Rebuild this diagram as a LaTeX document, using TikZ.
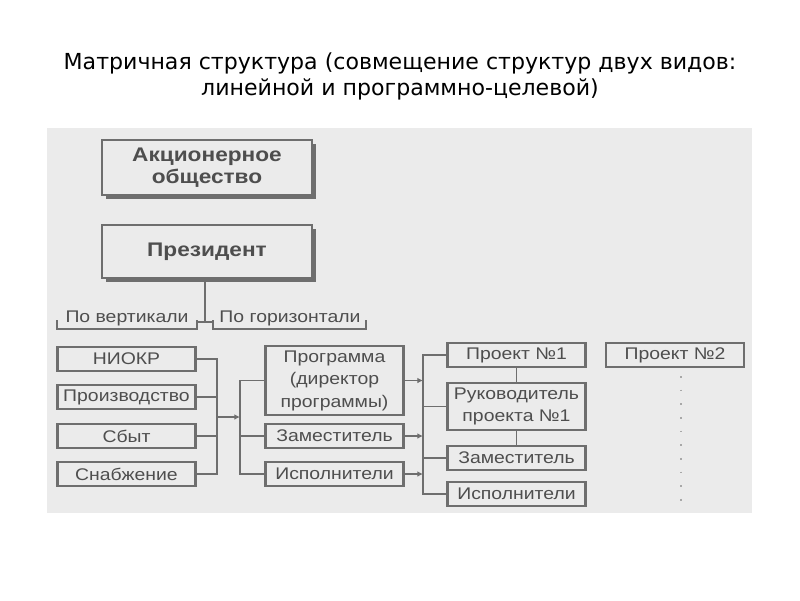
\documentclass[tikz,border=0pt]{standalone}
\usepackage{fontspec}
\setmainfont{Liberation Sans}
\newfontfamily\titlefont{DejaVu Sans}
\newfontfamily\boxfont[FakeStretch=1.15]{Liberation Sans}
\usepackage{tikz}
\usetikzlibrary{arrows.meta,positioning,shadows}
\definecolor{scanbg}{HTML}{EBEBEB}
\definecolor{boxline}{HTML}{6E6E6E}
\definecolor{boxtext}{HTML}{4E4E4E}

\begin{document}
\begin{tikzpicture}[
  x=0.025cm, y=-0.025cm,
  unit/.style={rectangle,draw=boxline,line width=1.5pt,fill=scanbg,
               text=boxtext,font=\boxfont\fontsize{12}{16}\selectfont,
               inner sep=1pt,align=center},
  unitsm/.style={unit,minimum width=3.45cm,minimum height=0.6cm},
  topbox/.style={unit,minimum width=5.25cm,font=\boxfont\bfseries\fontsize{14}{16}\selectfont,
                 drop shadow={shadow xshift=3pt,shadow yshift=-3pt,fill=boxline,opacity=1}},
  line/.style={draw=boxline,line width=1.3pt},
  arr/.style={line,-{Latex[length=4pt,width=4pt]}},
  tag/.style={text=boxtext,font=\boxfont\fontsize{12}{14}\selectfont,inner sep=0pt}
]
  \useasboundingbox (0,0) rectangle (800,600);
  \fill[white] (0,0) rectangle (800,600);

  % title
  \node[font=\titlefont\fontsize{15.7}{18.5}\selectfont,align=center] (title) at (400,76)
    {Матричная структура (совмещение структур двух видов:\\линейной и программно-целевой)};

  % scanned sheet
  \fill[scanbg] (47,128) rectangle (752,513);

  % top of the hierarchy
  \node[topbox,minimum height=1.375cm] (ao)   at (207,167.5) {Акционерное\\общество};
  \node[topbox,minimum height=1.325cm] (pres) at (207,251.5) {Президент};

  % two directions
  \node[tag] (vert)  at (127,318) {По вертикали};
  \node[tag] (horiz) at (290,318) {По горизонтали};
  \coordinate (vl) at (57,320);  \coordinate (vr) at (197,320);
  \coordinate (hl) at (213,320); \coordinate (hr) at (366,320);
  \coordinate (pj) at (205,322);
  \draw[line] (vl) -- ++(0,9) -| (vr);
  \draw[line] (hl) -- ++(0,9) -| (hr);
  \draw[line] (pres.south -| pj) -- (pj);
  \draw[line] (vr |- pj) -- (hl |- pj);

  % functional departments
  \node[unitsm] (niokr)  at (126.5,359) {НИОКР};
  \node[unitsm] (proizv) at (126.5,397) {Производство};
  \node[unitsm] (sbyt)   at (126.5,436) {Сбыт};
  \node[unitsm] (snab)   at (126.5,474) {Снабжение};

  % programme
  \node[unitsm,minimum height=1.725cm] (prog) at (334.5,380.5) {Программа\\(директор\\программы)};
  \node[unitsm] (zam) at (334.5,436) {Заместитель};
  \node[unitsm] (isp) at (334.5,474) {Исполнители};

  % projects
  \node[unitsm] (p1)   at (516.5,355) {Проект №1};
  \node[unitsm,minimum height=1.175cm] (ruk) at (516.5,406.5) {Руководитель\\проекта №1};
  \node[unitsm] (zam1) at (516.5,458) {Заместитель};
  \node[unitsm] (isp1) at (516.5,494) {Исполнители};
  \node[unitsm] (p2)   at (675,355)   {Проект №2};

  % buses
  \coordinate (lb) at (217,417);
  \coordinate (rb) at (240,417);
  \coordinate (mb) at (423,420);

  \foreach \dep in {niokr,proizv,sbyt,snab}
    \draw[line] (\dep.east) -| (lb);
  \draw[arr] (lb) -- (rb);
  \foreach \dep in {prog,zam,isp}
    \draw[line] (rb) |- (\dep.west);

  \foreach \dep in {prog,zam,isp}
    \draw[arr] (\dep.east) -- (\dep.east -| mb);
  \foreach \dep in {p1,ruk,zam1,isp1}
    \draw[line] (mb) |- (\dep.west);

  \draw[line] (p1) -- (ruk);
  \draw[line] (ruk) -- (zam1);

  \coordinate (p2end) at (681,505);
  \draw[boxline!60,line width=1.2pt,dash pattern=on 1.2pt off 8.5pt] (p2.south -| p2end) ++(0,8) -- (p2end);
\end{tikzpicture}
\end{document}
